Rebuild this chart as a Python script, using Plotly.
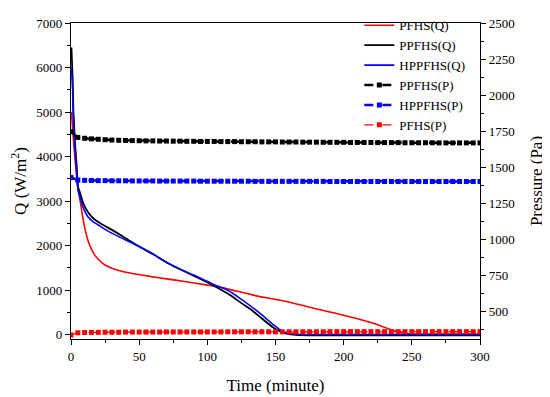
import plotly.graph_objects as go

# ---- Q (heat flux) series ----
t_ppfhs_q = [0.3, 1.2, 1.7, 2.9, 4.2, 5.1, 6.6, 9, 12.4, 16.1, 20, 27.1, 35, 46.6, 60, 71, 83, 95.4, 105, 115, 125, 133.5, 140, 148, 153, 158, 165, 175, 200, 250, 300]
q_ppfhs = [6450, 5775, 5055, 4337, 3761, 3330, 3185, 2950, 2754, 2618, 2530, 2402, 2260, 2040, 1807, 1603, 1420, 1243, 1090, 919, 705, 524, 360, 164, 75, 22, -10, -20, -20, -20, -20]

t_hppfhs_q = [0.3, 1.2, 1.7, 2.9, 4.2, 5.1, 6.6, 9, 12.4, 16.1, 20, 27.1, 35, 46.6, 60, 71, 83, 95.4, 105, 115, 125, 133.5, 140, 148, 153, 158, 163, 170, 200, 250, 300]
q_hppfhs = [6000, 5500, 4900, 4200, 3650, 3250, 3080, 2850, 2646, 2538, 2460, 2322, 2200, 2030, 1810, 1610, 1430, 1260, 1120, 993, 790, 600, 440, 230, 110, 40, 10, 0, 0, 0, 0]

t_pfhs_q = [0.3, 1.5, 2.9, 4, 5.4, 7.5, 9.5, 12.4, 15, 17.3, 20, 24.6, 30, 34.4, 45, 58.8, 70, 83.2, 100, 112.5, 133.5, 158, 182, 206.7, 226, 236, 245.8, 255, 300]
q_pfhs = [5000, 4500, 3950, 3600, 3250, 2850, 2480, 2120, 1920, 1790, 1690, 1567, 1490, 1446, 1370, 1301, 1250, 1193, 1110, 1042, 885, 740, 561, 380, 210, 93, 22, 10, 10]

# ---- Pressure series (every 5 minutes) ----
t_p = [0, 5, 10, 15, 20, 25, 30, 35, 40, 45, 50, 55, 60, 65, 70, 75, 80, 85, 90, 95,
       100, 105, 110, 115, 120, 125, 130, 135, 140, 145, 150, 155, 160, 165, 170, 175,
       180, 185, 190, 195, 200, 205, 210, 215, 220, 225, 230, 235, 240, 245, 250, 255,
       260, 265, 270, 275, 280, 285, 290, 295, 300]
p_ppfhs = [1745, 1706, 1700, 1696, 1693, 1690, 1688, 1686, 1685, 1684, 1683, 1682, 1682, 1681, 1681, 1680, 1680, 1679, 1679, 1678,
           1678, 1678, 1677, 1677, 1677, 1676, 1676, 1676, 1675, 1675, 1675, 1674, 1674, 1674, 1673, 1673,
           1673, 1672, 1672, 1672, 1672, 1671, 1671, 1671, 1671, 1670, 1670, 1670, 1670, 1669, 1669, 1669,
           1669, 1669, 1668, 1668, 1668, 1668, 1668, 1668, 1668]
p_hppfhs = [1428, 1410, 1408, 1407, 1406, 1406, 1405, 1405, 1405, 1404, 1404, 1404, 1404, 1403, 1403, 1403, 1403, 1403, 1403, 1402,
            1402, 1402, 1402, 1402, 1402, 1402, 1402, 1401, 1401, 1401, 1401, 1401, 1401, 1401, 1401, 1401,
            1401, 1401, 1400, 1400, 1400, 1400, 1400, 1400, 1400, 1400, 1400, 1400, 1400, 1400, 1400, 1400,
            1400, 1400, 1400, 1400, 1400, 1400, 1400, 1400, 1400]
p_pfhs = [335, 350, 352, 353, 353, 354, 354, 354, 355, 355, 355, 355, 355, 355, 356, 356, 356, 356, 356, 356,
          356, 356, 356, 357, 357, 357, 357, 357, 357, 357, 357, 357, 357, 357, 357, 357,
          357, 357, 358, 358, 358, 358, 358, 358, 358, 358, 358, 358, 358, 358, 358, 358,
          358, 358, 358, 358, 358, 358, 358, 358, 358]

FONT = "Liberation Serif, Times New Roman, serif"
fig = go.Figure()

fig.add_trace(go.Scatter(x=t_pfhs_q, y=q_pfhs, name="PFHS(Q)", mode="lines",
                         line=dict(color="#ff0000", width=1.6, shape="spline", smoothing=0.6)))
fig.add_trace(go.Scatter(x=t_ppfhs_q, y=q_ppfhs, name="PPFHS(Q)", mode="lines",
                         line=dict(color="#000000", width=1.8, shape="spline", smoothing=0.6)))
fig.add_trace(go.Scatter(x=t_hppfhs_q, y=q_hppfhs, name="HPPFHS(Q)", mode="lines",
                         line=dict(color="#0000ff", width=1.6, shape="spline", smoothing=0.6)))

fig.add_trace(go.Scatter(x=t_p, y=p_ppfhs, name="PPFHS(P)", mode="lines+markers", yaxis="y2",
                         line=dict(color="#000000", width=2.5, dash="dash"),
                         marker=dict(symbol="square", size=5, color="#000000")))
fig.add_trace(go.Scatter(x=t_p, y=p_hppfhs, name="HPPFHS(P)", mode="lines+markers", yaxis="y2",
                         line=dict(color="#0000ff", width=2.5, dash="dash"),
                         marker=dict(symbol="square", size=5, color="#0000ff")))
fig.add_trace(go.Scatter(x=t_p, y=p_pfhs, name="PFHS(P)", mode="lines+markers", yaxis="y2",
                         line=dict(color="#ff0000", width=1.2, dash="dash"),
                         marker=dict(symbol="square", size=5, color="#ff0000")))

axis_common = dict(showline=True, linecolor="black", linewidth=1.2, showgrid=False, zeroline=False,
                   ticks="outside", ticklen=5, tickwidth=1.2, tickcolor="black", automargin=False,
                   tickfont=dict(family=FONT, size=13, color="black"))

# page body has an 8px offset, so the figure is sized/margined to land on the same window pixels
fig.update_layout(
    width=542, height=389,
    margin=dict(l=63, r=70, t=2, b=58),
    paper_bgcolor="white", plot_bgcolor="white",
    font=dict(family=FONT, color="black"),
    showlegend=True,
    legend=dict(x=0.705, y=1.04, xanchor="left", yanchor="top", bgcolor="rgba(0,0,0,0)",
                font=dict(family=FONT, size=13, color="black"), itemwidth=30,
                tracegroupgap=0),
    xaxis=dict(range=[0, 300], tickvals=[0, 50, 100, 150, 200, 250, 300], mirror=True,
               minor=dict(ticks="outside", ticklen=3, tickwidth=1.2, dtick=25, tickcolor="black"),
               title=dict(text="Time (minute)", font=dict(family=FONT, size=17), standoff=16),
               **axis_common),
    yaxis=dict(range=[-101, 7000], tickvals=[0, 1000, 2000, 3000, 4000, 5000, 6000, 7000],
               minor=dict(ticks="outside", ticklen=3, tickwidth=1.2, tickvals=[500, 1500, 2500, 3500, 4500, 5500, 6500], tickcolor="black"),
               title=dict(text="Q (W/m<sup>2</sup>)", font=dict(family=FONT, size=17), standoff=14),
               **axis_common),
    yaxis2=dict(range=[307, 2500], overlaying="y", side="right",
                tickvals=[500, 750, 1000, 1250, 1500, 1750, 2000, 2250, 2500],
                minor=dict(ticks="outside", ticklen=3, tickwidth=1.2,
                           tickvals=[375, 625, 875, 1125, 1375, 1625, 1875, 2125, 2375], tickcolor="black"),
                title=dict(text="Pressure (Pa)", font=dict(family=FONT, size=17), standoff=16),
                **axis_common),
)

fig.write_html("out.html")
